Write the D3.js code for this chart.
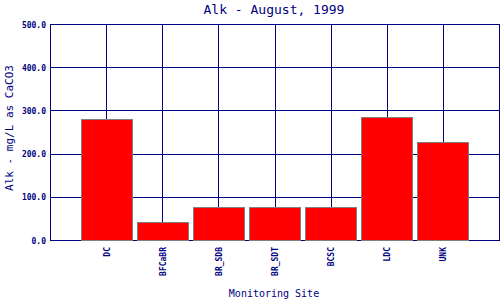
<!DOCTYPE html>
<html>
<head>
<meta charset="utf-8">
<script src="https://cdn.jsdelivr.net/npm/d3@7"></script>
<style>
  body { margin: 0; background: #fff; }
  svg { display: block; }
  text { fill: #000080; font-family: "DejaVu Sans Mono", monospace; }
</style>
</head>
<body>
<div id="chart"></div>
<script>
const sites = ["DC", "BFCaBR", "BR_SDB", "BR_SDT", "BCSC", "LDC", "UNK"];
const alk = [282, 42, 78, 78, 78, 285, 228];
const yTicks = [0, 100, 200, 300, 400, 500];

const width = 500;
const height = 300;
const plotLeft = 50.5, plotRight = 499.5, plotTop = 24.5, plotBottom = 240.5;
const navy = "#000080";

const svg = d3.select("#chart")
    .append("svg")
    .attr("width", width)
    .attr("height", height);

const x = d3.scalePoint()
    .domain(sites)
    .range([plotLeft, plotRight])
    .padding(1);

const y = d3.scaleLinear()
    .domain([0, 500])
    .range([plotBottom, plotTop]);

const barW = x.step() * 0.925;

// grid lines
svg.append("g")
    .selectAll("line")
    .data(yTicks)
    .enter().append("line")
    .attr("x1", plotLeft).attr("x2", plotRight)
    .attr("y1", d => Math.round(y(d) - 0.5) + 0.5)
    .attr("y2", d => Math.round(y(d) - 0.5) + 0.5)
    .attr("stroke", navy);

svg.append("g")
    .selectAll("line")
    .data(sites)
    .enter().append("line")
    .attr("x1", d => Math.floor(x(d)) + 0.5)
    .attr("x2", d => Math.floor(x(d)) + 0.5)
    .attr("y1", plotTop).attr("y2", plotBottom)
    .attr("stroke", navy);

svg.append("rect")
    .attr("x", plotLeft).attr("y", plotTop)
    .attr("width", plotRight - plotLeft).attr("height", plotBottom - plotTop)
    .attr("fill", "none")
    .attr("stroke", navy);

// bars
svg.append("g")
    .selectAll("rect")
    .data(alk)
    .enter().append("rect")
    .attr("x", (d, i) => Math.round(x(sites[i]) - barW / 2) + 0.5)
    .attr("y", d => Math.round(y(d)) + 0.5)
    .attr("width", Math.round(barW) - 1)
    .attr("height", d => Math.round(y(0)) - Math.round(y(d)) - 1)
    .attr("fill", "#ff0000")
    .attr("stroke", "#808080");

// y tick labels
svg.append("g")
    .selectAll("text")
    .data(yTicks)
    .enter().append("text")
    .attr("x", 46)
    .attr("y", d => y(d) + 3)
    .attr("text-anchor", "end")
    .attr("font-size", 8)
    .attr("font-weight", "bold")
    .text(d => d.toFixed(1));

// x tick labels
svg.append("g")
    .selectAll("text")
    .data(sites)
    .enter().append("text")
    .attr("transform", d => `translate(${x(d) + 3},247) rotate(-90)`)
    .attr("text-anchor", "end")
    .attr("font-size", 8)
    .attr("font-weight", "bold")
    .text(d => d);

// titles
svg.append("text")
    .attr("x", 274).attr("y", 14)
    .attr("text-anchor", "middle")
    .attr("font-size", 13)
    .text("Alk - August, 1999");

svg.append("text")
    .attr("x", 274).attr("y", 297)
    .attr("text-anchor", "middle")
    .attr("font-size", 10)
    .text("Monitoring Site");

svg.append("text")
    .attr("transform", "translate(13,128) rotate(-90)")
    .attr("text-anchor", "middle")
    .attr("font-size", 11)
    .text("Alk - mg/L as CaCO3");
</script>
</body>
</html>
